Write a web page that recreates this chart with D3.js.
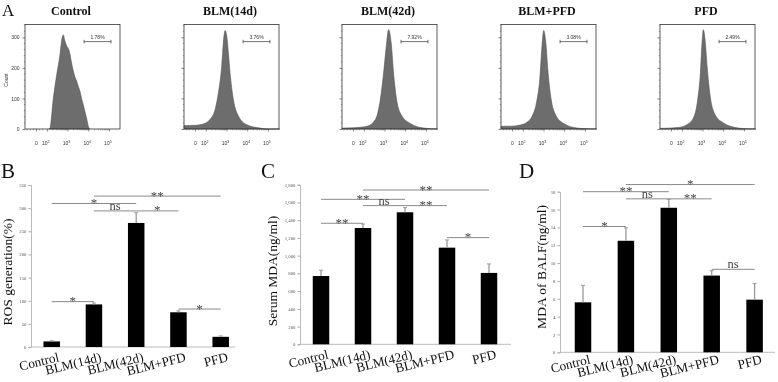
<!DOCTYPE html>
<html><head><meta charset="utf-8">
<script src="https://cdn.jsdelivr.net/npm/d3@7"></script>
<style>body{margin:0;background:#fff}svg{display:block;will-change:transform;-webkit-font-smoothing:antialiased}</style>
</head><body>
<svg id="c" width="778" height="382"></svg>
<script>
// ---------------- DATA ----------------
const groups = ["Control", "BLM(14d)", "BLM(42d)", "BLM+PFD", "PFD"];

// Panel A: flow histograms, points are [log10 fluorescence, count]
const gatePercents = ["1.78%", "3.76%", "7.92%", "3.08%", "2.49%"];
const gateRange = [3.8, 5.1];
const histControl = [[2.10,0],[2.16,4],[2.31,97],[2.47,174],[2.63,240],[2.73,295],[2.80,308],[2.86,292],[2.96,272],[3.05,262],[3.12,245],[3.20,215],[3.28,190],[3.36,170],[3.44,157],[3.52,140],[3.60,124],[3.68,100],[3.76,80],[3.84,58],[3.92,36],[4.02,6],[4.08,0]];
const hist14d = [[0.95,11],[1.5,12],[1.9,17],[2.20,31],[2.45,64],[2.61,119],[2.77,207],[2.85,284],[2.93,322],[3.01,305],[3.09,250],[3.17,185],[3.33,97],[3.58,42],[3.98,14],[4.62,3],[4.95,0],[5.58,0]];
const hist42d = [[0.95,3],[1.5,4],[2.16,9],[2.56,31],[2.80,97],[2.96,185],[3.09,273],[3.20,325],[3.32,284],[3.45,174],[3.61,86],[3.85,42],[4.25,18],[4.90,3],[5.58,0]];
const histBlmPfd = [[0.95,9],[1.40,9],[1.88,13],[2.20,22],[2.45,42],[2.66,86],[2.82,163],[2.93,273],[3.01,322],[3.11,284],[3.22,185],[3.37,97],[3.58,47],[3.98,18],[4.62,3],[5.10,1],[5.58,0]];
const histPfd = [[0.95,2],[1.83,5],[2.24,14],[2.56,36],[2.77,97],[2.90,185],[2.98,284],[3.04,325],[3.12,295],[3.22,207],[3.37,108],[3.61,47],[4.01,20],[4.58,5],[5.06,1],[5.58,0]];
const histograms = [histControl, hist14d, hist42d, histBlmPfd, histPfd];
const countTicks = [0, 100, 200, 300];
const decadeTicks = [2, 3, 4, 5];

// Panel B: ROS generation (%)
const rosMean = [12, 92, 268, 75, 22];
const rosErr = [1.5, 3, 22, 3, 2];
const rosTicks = [0, 50, 100, 150, 200, 250, 300, 350];
const rosSig = [[1,4,326,"**"],[0,2,310,"*"],[1,2,294,"ns"],[2,3,294,"*"],[0,1,98,"*"],[3,4,82,"*"]];

// Panel C: Serum MDA (ng/ml)
const serumMean = [770, 1312, 1489, 1090, 805];
const serumErr = [65, 45, 52, 87, 101];
const serumTicks = [0, 200, 400, 600, 800, 1000, 1200, 1400, 1600, 1800];
const serumSig = [[1,4,1740,"**"],[0,2,1635,"**"],[1,2,1564,"ns"],[2,3,1564,"**"],[0,1,1365,"**"],[3,4,1203,"*"]];

// Panel D: MDA of BALF (ng/ml)
const balfMean = [5.6, 12.5, 16.2, 8.6, 5.9];
const balfErr = [1.9, 1.45, 0.95, 0.55, 1.8];
const balfTicks = [0, 2, 4, 6, 8, 10, 12, 14, 16, 18];
const balfSig = [[1,4,18.8,"*"],[0,2,18.0,"**"],[1,2,17.2,"ns"],[2,3,17.2,"**"],[0,1,14.1,"*"],[3,4,9.3,"ns"]];

// ---------------- DRAW ----------------
const svg = d3.select("#c");
const SERIF = "'Liberation Serif','Times New Roman',serif";

// ---- Panel A ----
svg.append("text").attr("x", 2).attr("y", 16).attr("font-family", SERIF)
  .attr("font-size", 17).attr("fill", "#111").text("A");

const flowX0 = [25, 184, 342, 501, 660];
const flowW = 95, flowTop = 24.5, flowBottom = 129;

histograms.forEach((h, i) => {
  const x0 = flowX0[i];
  const g = svg.append("g");
  const x = d3.scaleLinear().domain([0.947, 0.947 + flowW / 20.7]).range([x0, x0 + flowW]);
  const y = d3.scaleLinear().domain([0, 342]).range([flowBottom, flowTop]);

  g.append("text").attr("x", x0 + 46).attr("y", 15).attr("text-anchor", "middle")
    .attr("font-family", SERIF).attr("font-size", 12).attr("font-weight", "bold")
    .attr("fill", "#111").text(groups[i]);

  const area = d3.area().x(d => x(d[0])).y0(y(0)).y1(d => y(d[1])).curve(d3.curveMonotoneX);
  g.append("path").datum(h).attr("d", area).attr("fill", "#6d6d6d")
    .attr("stroke", "#555").attr("stroke-width", 0.6);

  g.append("rect").attr("x", x0).attr("y", flowTop).attr("width", flowW)
    .attr("height", flowBottom - flowTop).attr("fill", "none").attr("stroke", "#333").attr("stroke-width", 0.8);

  // y ticks
  const ya = d3.axisLeft(y).tickValues(countTicks).tickSize(2.5)
    .tickFormat(i === 0 ? d3.format("d") : () => "");
  const yg = g.append("g").attr("transform", `translate(${x0},0)`).call(ya);
  yg.select(".domain").remove();
  yg.selectAll("line").attr("stroke", "#333").attr("stroke-width", 0.6);
  yg.selectAll("text").attr("font-size", 5).attr("font-family", "Arial, sans-serif").attr("fill", "#333");
  const yMinor = d3.range(0, 342, 20).filter(v => v % 100 !== 0);
  g.selectAll(".ymin").data(yMinor).enter().append("line")
    .attr("x1", x0 - 1.2).attr("x2", x0).attr("y1", d => y(d)).attr("y2", d => y(d))
    .attr("stroke", "#444").attr("stroke-width", 0.5);
  if (i === 0) {
    g.append("text").attr("transform", `translate(8,80) rotate(-90)`).attr("text-anchor", "middle")
      .attr("font-size", 5).attr("font-family", "Arial, sans-serif").attr("fill", "#333").text("Count");
  }

  // x ticks
  const xa = d3.axisBottom(x).tickValues(decadeTicks).tickSize(2.5).tickFormat("");
  const xg = g.append("g").attr("transform", `translate(0,${flowBottom})`).call(xa);
  xg.select(".domain").remove();
  xg.selectAll("line").attr("stroke", "#333").attr("stroke-width", 0.6);
  const minor = [];
  [2, 3, 4].forEach(dcd => { for (let m = 2; m <= 9; m++) minor.push(dcd + Math.log10(m)); });
  [1.05, 1.2, 1.35, 1.65, 1.8].forEach(v => minor.push(v));
  g.selectAll(".xmin").data(minor).enter().append("line")
    .attr("x1", d => x(d)).attr("x2", d => x(d)).attr("y1", flowBottom).attr("y2", flowBottom + 1.3)
    .attr("stroke", "#444").attr("stroke-width", 0.5);
  g.append("line").attr("x1", x(1.5)).attr("x2", x(1.5)).attr("y1", flowBottom).attr("y2", flowBottom + 2.5)
    .attr("stroke", "#333").attr("stroke-width", 0.6);
  g.append("text").attr("x", x(1.5)).attr("y", 145).attr("text-anchor", "middle")
    .attr("font-size", 5).attr("font-family", "Arial, sans-serif").attr("fill", "#333").text("0");
  decadeTicks.forEach(dcd => {
    const t = g.append("text").attr("x", x(dcd) - 1).attr("y", 145).attr("text-anchor", "middle")
      .attr("font-size", 5).attr("font-family", "Arial, sans-serif").attr("fill", "#333");
    t.append("tspan").text("10");
    t.append("tspan").attr("dy", -2).attr("font-size", 3.6).text(dcd);
  });

  // gate
  const gy = y(286);
  g.append("line").attr("x1", x(gateRange[0])).attr("x2", x(gateRange[1])).attr("y1", gy).attr("y2", gy)
    .attr("stroke", "#333").attr("stroke-width", 0.7);
  gateRange.forEach(v => g.append("line").attr("x1", x(v)).attr("x2", x(v)).attr("y1", gy - 1.8).attr("y2", gy + 1.8)
    .attr("stroke", "#333").attr("stroke-width", 0.7));
  g.append("text").attr("x", (x(gateRange[0]) + x(gateRange[1])) / 2).attr("y", gy - 3)
    .attr("text-anchor", "middle").attr("font-size", 5).attr("font-family", "Arial, sans-serif")
    .attr("fill", "#333").text(gatePercents[i]);
});

// ---- Bar panels ----
function barPanel(cfg) {
  const g = svg.append("g");
  const x = d3.scalePoint().domain(groups).range([cfg.first, cfg.first + 4 * cfg.step]);
  const y = d3.scaleLinear().domain([0, cfg.max]).range([cfg.yBottom, cfg.yTop]);
  const bw = 16.5;

  g.append("text").attr("x", cfg.letterX).attr("y", 178).attr("font-family", SERIF)
    .attr("font-size", 21).attr("fill", "#111").text(cfg.letter);

  // y axis
  const ya = d3.axisLeft(y).tickValues(cfg.ticks).tickSize(2.5).tickPadding(2);
  const yg = g.append("g").attr("transform", `translate(${cfg.x0},0)`).call(ya);
  yg.select(".domain").attr("stroke", "#aaa").attr("stroke-width", 0.8);
  yg.selectAll("line").attr("stroke", "#aaa");
  yg.selectAll("text").attr("font-size", 4.8).attr("font-family", SERIF).attr("fill", "#555");

  // x axis
  const xa = d3.axisBottom(x).tickSize(0).tickFormat("");
  const xg = g.append("g").attr("transform", `translate(0,${cfg.yBottom})`).call(xa);
  xg.select(".domain").attr("d", `M${cfg.x0},0H${cfg.xEnd}`).attr("stroke", "#aaa").attr("stroke-width", 0.8);
  groups.forEach(c => {
    g.append("text").attr("transform", `translate(${x(c) + 8},${cfg.yBottom + cfg.labelDy}) rotate(-14)`)
      .attr("text-anchor", "end").attr("font-family", SERIF).attr("font-size", 13.2)
      .attr("fill", "#111").text(c);
  });

  // y title
  g.append("text").attr("transform", `translate(${cfg.titleX},${cfg.titleY}) rotate(-90)`)
    .attr("text-anchor", "middle").attr("font-family", SERIF).attr("font-size", 13.5)
    .attr("fill", "#111").text(cfg.title);

  // bars
  g.selectAll(".bar").data(cfg.mean).enter().append("rect")
    .attr("x", (d, i) => x(groups[i]) - bw / 2).attr("width", bw)
    .attr("y", d => y(d)).attr("height", d => cfg.yBottom - y(d)).attr("fill", "#000");

  // error bars
  cfg.mean.forEach((m, i) => {
    const cx = x(groups[i]);
    g.append("line").attr("x1", cx).attr("x2", cx).attr("y1", y(m)).attr("y2", y(m + cfg.err[i]))
      .attr("stroke", "#999").attr("stroke-width", 1.3);
    g.append("line").attr("x1", cx - 2).attr("x2", cx + 2).attr("y1", y(m + cfg.err[i])).attr("y2", y(m + cfg.err[i]))
      .attr("stroke", "#999").attr("stroke-width", 1);
  });

  // significance
  cfg.sig.forEach(([a, b, lvl, lab]) => {
    const x1 = x(groups[a]), x2 = x(groups[b]), yy = y(lvl);
    g.append("line").attr("x1", x1).attr("x2", x2).attr("y1", yy).attr("y2", yy)
      .attr("stroke", "#8a8a8a").attr("stroke-width", 1);
    g.append("text").attr("x", (x1 + x2) / 2).attr("y", lab === "ns" ? yy - 1 : yy + 3.5)
      .attr("text-anchor", "middle").attr("font-family", SERIF)
      .attr("font-size", lab === "ns" ? 12.5 : 13).attr("fill", "#444").text(lab);
  });
}

barPanel({letter: "B", letterX: 1, x0: 31, xEnd: 235, first: 51.7, step: 42.25,
  yBottom: 347, yTop: 185, max: 350, ticks: rosTicks, mean: rosMean, err: rosErr, sig: rosSig,
  title: "ROS generation(%)", titleX: 12, titleY: 272, labelDy: 14});
barPanel({letter: "C", letterX: 261, x0: 300, xEnd: 511, first: 321, step: 42,
  yBottom: 344.3, yTop: 184.7, max: 1800, ticks: serumTicks, mean: serumMean, err: serumErr, sig: serumSig,
  title: "Serum MDA(ng/ml)", titleX: 277, titleY: 271, labelDy: 14});
barPanel({letter: "D", letterX: 519, x0: 560, xEnd: 775, first: 583, step: 42.9,
  yBottom: 352.3, yTop: 191.7, max: 18, ticks: balfTicks, mean: balfMean, err: balfErr, sig: balfSig,
  title: "MDA of BALF(ng/ml)", titleX: 546, titleY: 267, labelDy: 11});
</script>
</body></html>
